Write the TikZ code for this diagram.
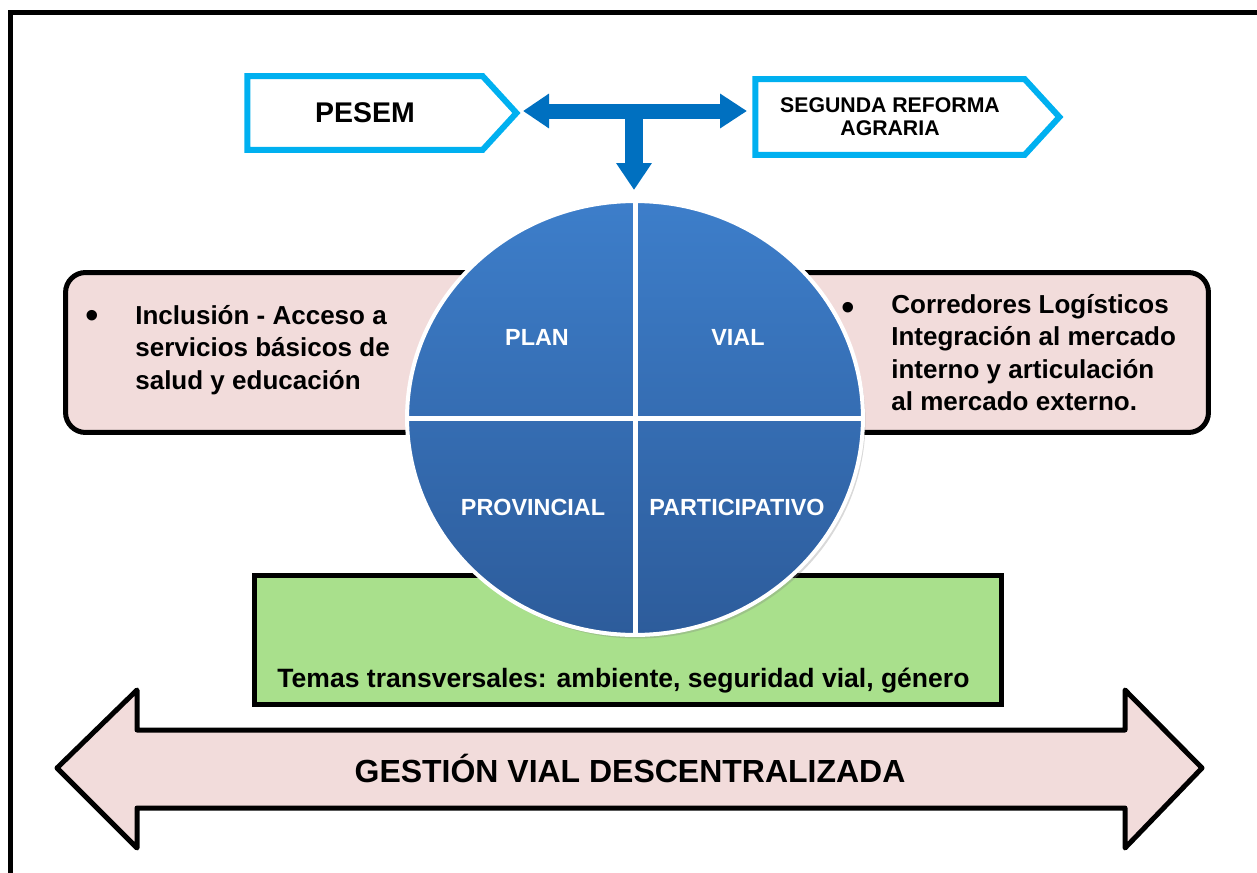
\documentclass[tikz,border=0pt]{standalone}
\usepackage{fontspec}
\setmainfont{Liberation Sans}
\usetikzlibrary{arrows.meta,shapes.geometric,shapes.symbols,shadows}

\definecolor{cian}{RGB}{0,176,240}
\definecolor{azul}{RGB}{0,112,192}
\definecolor{rosa}{RGB}{242,220,219}
\definecolor{verde}{RGB}{169,224,140}
\definecolor{azularriba}{RGB}{61,126,202}
\definecolor{azulabajo}{RGB}{45,92,155}

\begin{document}
\begin{tikzpicture}[x=0.02cm, y=-0.02cm,
    flecha/.style={shape=signal, signal to=east, signal pointer angle=95, draw=cian, line width=0.12cm, fill=white, inner sep=0pt},
    caja/.style={draw=black, line width=0.1cm, fill=rosa, rounded corners=0.4cm},
    texto/.style={font=\fontsize{14.8}{18.4}\selectfont\bfseries, align=left, inner sep=0pt, anchor=north west},
    punto/.style={font=\fontsize{22}{22}\selectfont, inner sep=0pt},
    cuadrante/.style={font=\fontsize{13.3}{16}\selectfont\bfseries, text=white, inner sep=0pt, anchor=base}]

    % Frame
    \useasboundingbox (0,0) rectangle (1257,872);
    \clip (0,0) rectangle (1257,872);
    \draw[line width=0.11cm] (10.5,900) -- (10.5,12.5) -- (1300,12.5);

    % Top: PESEM and reforma agraria
    \node[flecha, minimum width=5.38cm, minimum height=1.48cm, font=\fontsize{16.2}{19}\selectfont\bfseries] (pesem) at (365,113) {PESEM};
    \node[flecha, minimum width=6.08cm, minimum height=1.52cm, align=center, font=\fontsize{12.1}{13}\selectfont\bfseries] (reforma) at (890,117) {SEGUNDA REFORMA\\AGRARIA};

    \coordinate (izq) at (523,111);
    \coordinate (der) at (747,111);
    \coordinate (cruce) at (634,111);
    \coordinate (baja) at (634,190);
    \draw[azul, line width=0.3cm, {Triangle[length=0.52cm, width=0.66cm]}-{Triangle[length=0.54cm, width=0.66cm]}] (izq) -- (der);
    \draw[azul, line width=0.36cm, -{Triangle[length=0.54cm, width=0.68cm]}] (cruce) -- (baja);

    % Side boxes and green box
    \node[caja, minimum width=9.89cm, minimum height=3.2cm] (cajaL) at (312.75,352.5) {};
    \node[caja, minimum width=9.97cm, minimum height=3.2cm] (cajaR) at (959.25,352.5) {};
    \node[draw=black, line width=0.1cm, fill=verde, minimum width=14.94cm, minimum height=2.58cm] (cajaV) at (628,640) {};

    % Circle
    \node[ellipse, minimum width=9.12cm, minimum height=8.68cm, draw=white, line width=0.08cm,
          top color=azularriba, bottom color=azulabajo,
          drop shadow={opacity=0.3, shadow xshift=0.05cm, shadow yshift=-0.07cm}] (rueda) at (635,418) {};
    \draw[white, line width=0.1cm] (rueda.north) -- (rueda.south);
    \draw[white, line width=0.1cm] (rueda.west) -- (rueda.east);

    \node[cuadrante] (plan) at (537,345) {PLAN};
    \node[cuadrante] (vial) at (738,345) {VIAL};
    \node[cuadrante] (provincial) at (533,515) {PROVINCIAL};
    \node[cuadrante] (participativo) at (737,515) {PARTICIPATIVO};

    % Texts
    \node[punto] (puntoL) at (92,319) {•};
    \node[texto] (textoL) at (135,305) {Inclusión - Acceso a\\servicios básicos de\\salud y educación};
    \node[punto] (puntoR) at (848,311) {•};
    \node[texto] (textoR) at (891,294) {Corredores Logísticos\\Integración al mercado\\interno y articulación\\al mercado externo.};
    \node[font=\fontsize{15.1}{18}\selectfont\bfseries, inner sep=0pt, anchor=base] (temas) at (623.5,687) {Temas transversales: ambiente, seguridad vial, género};

    % Bottom double arrow
    \draw[draw=black, line width=0.1cm, fill=rosa, line join=round] (57,768) -- (137,690) -- (137,730) -- (1125,730) -- (1125,690) -- (1202,768) -- (1125,848) -- (1125,808) -- (137,808) -- (137,848) -- cycle;
    \node[font=\fontsize{18.2}{20}\selectfont\bfseries, inner sep=0pt, anchor=base] (gestion) at (630,782) {GESTIÓN VIAL DESCENTRALIZADA};
\end{tikzpicture}
\end{document}
